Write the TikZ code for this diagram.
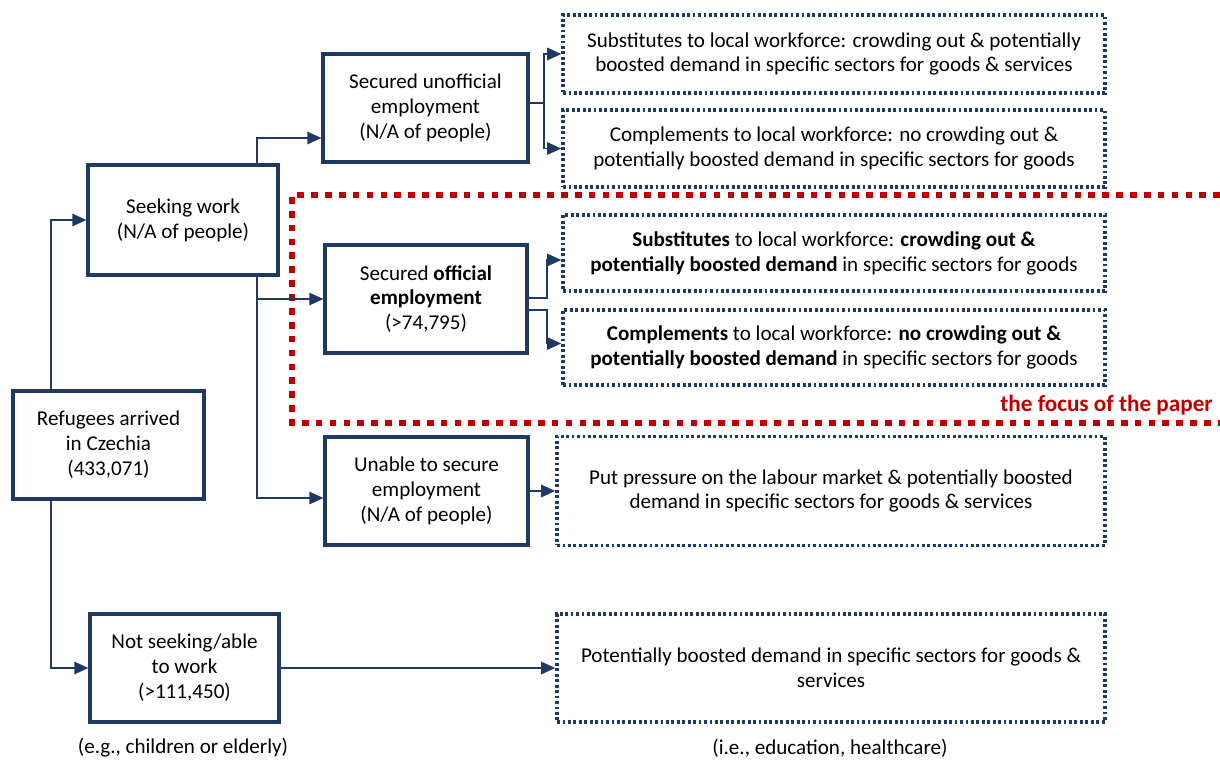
\documentclass[tikz,border=0pt]{standalone}
\usepackage{fontspec}
\setmainfont{Carlito}
\usetikzlibrary{arrows.meta,calc}
\definecolor{navy}{RGB}{31,56,100}
\definecolor{focusred}{RGB}{192,0,0}
\begin{document}
\begin{tikzpicture}[x=0.02cm,y=-0.02cm,line join=miter,
	font=\fontsize{12}{14.2}\selectfont,
	box/.style={draw=navy,line width=1.8pt,align=center,minimum height=2.16cm},
	effect/.style={draw=navy,line width=2pt,dash pattern=on 1.6pt off 1.5pt,align=center,minimum width=10.84cm},
	link/.style={draw=navy,line width=1.1pt,-{Triangle[length=8pt,width=7pt]}},
	focus/.style={draw=focusred,line width=3.8pt,dash pattern=on 3.8pt off 4.1pt}]
	\useasboundingbox (0,0) rectangle (1220,763);
	\node[box,minimum width=3.82cm] (ref) at (108.5,445) {Refugees arrived\\in Czechia\\(433,071)};
	\node[box,minimum width=3.8cm,minimum height=2.2cm] (seek) at (183,220) {Seeking work\\(N/A of people)};
	\node[box,minimum width=3.78cm] (notseek) at (184.5,668) {Not seeking/able\\to work\\(>111,450)};
	\node[box,minimum width=4.1cm] (unoff) at (425.5,108) {Secured unofficial\\employment\\(N/A of people)};
	\node[box,minimum width=4.04cm] (off) at (426,299) {Secured \textbf{official}\\\textbf{employment}\\(>74,795)};
	\node[box,minimum width=4.06cm] (unable) at (426.5,491) {Unable to secure\\employment\\(N/A of people)};
	\node[effect,minimum height=1.56cm] (sub1) at (834,54) {Substitutes to local workforce: crowding out \& potentially\\boosted demand in specific sectors for goods \& services};
	\node[effect,minimum height=1.54cm] (com1) at (834,148.5) {Complements to local workforce: no crowding out \&\\potentially boosted demand in specific sectors for goods};
	\node[effect,minimum height=1.52cm] (sub2) at (834,253) {\textbf{Substitutes} to local workforce: \textbf{crowding out \&}\\\textbf{potentially boosted demand} in specific sectors for goods};
	\node[effect,minimum height=1.5cm] (com2) at (834,347.5) {\textbf{Complements} to local workforce: \textbf{no crowding out \&}\\\textbf{potentially boosted demand} in specific sectors for goods};
	\node[effect,minimum width=10.96cm,minimum height=2.18cm] (press) at (831,491) {Put pressure on the labour market \& potentially boosted\\demand in specific sectors for goods \& services};
	\node[effect,minimum width=10.96cm,minimum height=2.16cm] (demand) at (831,668) {Potentially boosted demand in specific sectors for goods \&\\services};
	\node (kids) at (183,748) {(e.g., children or elderly)};
	\node (sectors) at (830,748) {(i.e., education, healthcare)};
	\draw[focus] (1220,195) -| (292,423) -- (1220,423);
	\node[anchor=base east,inner sep=0pt,text=focusred,font=\fontsize{13.2}{15}\selectfont\bfseries] (focuslabel) at (1213,411) {the focus of the paper};
	\draw[link] ($(ref.north west)+(40,0)$) |- (seek.west);
	\draw[link] ($(ref.south west)+(40,0)$) |- (notseek.west);
	\draw[link] ($(seek.north east)+(-23,0)$) |- ($(unoff.west)+(0,30)$);
	\draw[link] ($(seek.south east)+(-23,0)$) |- (off.west);
	\draw[link] ($(seek.south east)+(-23,0)$) |- ($(unable.west)+(0,7)$);
	\draw[link] ($(unoff.east)+(0,-5)$) -- ++(14,0) |- (sub1.west);
	\draw[link] ($(unoff.east)+(0,-5)$) -- ++(14,0) |- (com1.west);
	\draw[link] ($(off.east)+(0,-1)$) -- ++(18,0) |- ($(sub2.west)+(0,7)$);
	\draw[link] ($(off.east)+(0,11)$) -- ++(18,0) |- ($(com2.west)+(0,-4)$);
	\draw[link] (unable.east) -- (press.west);
	\draw[link] (notseek.east) -- (demand.west);
\end{tikzpicture}
\end{document}
